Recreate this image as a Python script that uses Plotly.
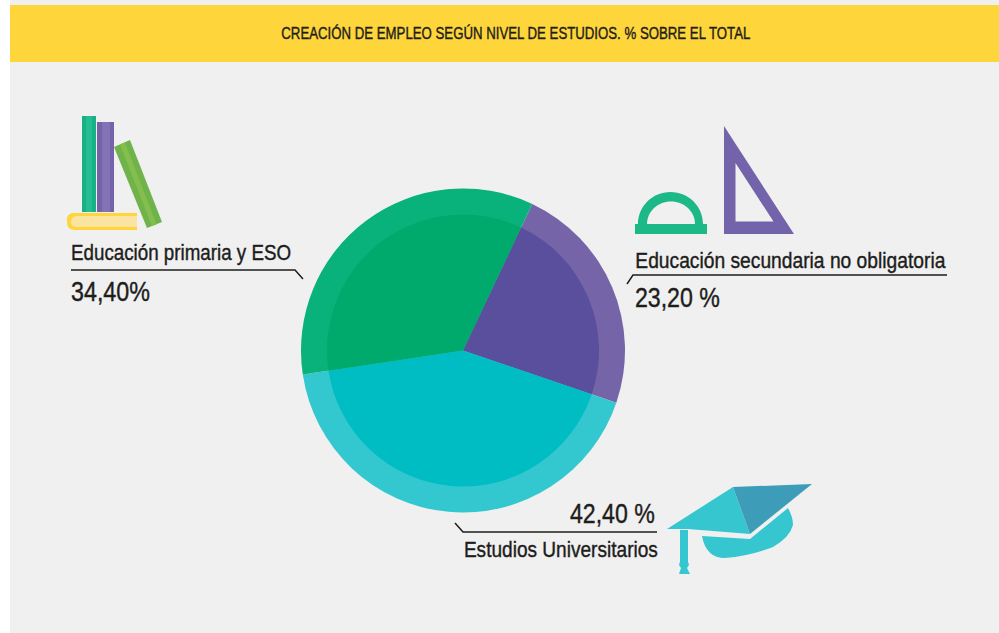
import json
import plotly.graph_objects as go

W, H = 999, 633

# Employment creation by education level
categories = ["Educación secundaria no obligatoria", "Estudios Universitarios", "Educación primaria y ESO"]
shares = [23.20, 42.40, 34.40]
rim_colors = ["#7565a8", "#33c8cf", "#08b27a"]
core_colors = ["#5a4f9c", "#00bcc3", "#00aa6c"]
title_text = "CREACIÓN DE EMPLEO SEGÚN NIVEL DE ESTUDIOS. % SOBRE EL TOTAL"
share_labels = ["23,20 %", "42,40 %", "34,40%"]

FONT = "Liberation Sans, Arial, sans-serif"
INK = "#1d1d1b"
BG = "#f0f0f0"
CX, CY = 463, 350.5
R_OUT, R_IN = 162, 136


def px(x):
    return x / W


def py(y):
    return 1 - y / H


def pt(p):
    return f"{px(p[0]):.5f},{py(p[1]):.5f}"


def poly(points, close=True):
    return "M" + " L".join(pt(p) for p in points) + (" Z" if close else "")


def path(start, *segs):
    # Each segment is a point (line), a 2-tuple of points (quadratic) or a 3-tuple (cubic)
    d = "M" + pt(start)
    for s in segs:
        if isinstance(s[0], tuple):
            d += (" Q" if len(s) == 2 else " C") + " ".join(pt(p) for p in s)
        else:
            d += " L" + pt(s)
    return d + " Z"


def dome(cx, base, rx, ry):
    # Half ellipse as two cubics
    k = 0.5523
    return (((cx - rx, base - k * ry), (cx - k * rx, base - ry), (cx, base - ry)),
            ((cx + k * rx, base - ry), (cx + rx, base - k * ry), (cx + rx, base)))


def filled(d, color):
    return dict(type="path", xref="paper", yref="paper", path=d,
                fillcolor=color, line=dict(width=0), layer="above")


def leader(points):
    return dict(type="path", xref="paper", yref="paper", path=poly(points, close=False),
                fillcolor="rgba(0,0,0,0)", line=dict(color=INK, width=1.5), layer="above")


def box(x0, y0, x1, y1, color):
    return dict(type="rect", xref="paper", yref="paper", x0=px(x0), x1=px(x1), y0=py(y1), y1=py(y0),
                fillcolor=color, line=dict(width=0), layer="above")


def pie(r, colors):
    return go.Pie(labels=categories, values=shares, sort=False, direction="clockwise", rotation=25.3,
                  domain=dict(x=[px(CX - r), px(CX + r)], y=[py(CY + r), py(CY - r)]),
                  marker=dict(colors=colors, line=dict(width=0)),
                  textinfo="none", showlegend=False)


fig = go.Figure([pie(R_OUT, rim_colors), pie(R_IN, core_colors)])

shapes = [
    dict(type="rect", xref="paper", yref="paper", x0=px(10), x1=1, y0=0, y1=1,
         fillcolor=BG, line=dict(width=0), layer="below"),
    dict(type="rect", xref="paper", yref="paper", x0=px(10), x1=1, y0=py(62), y1=py(5),
         fillcolor="#fed53a", line=dict(width=0), layer="below"),
    # leader lines
    leader([(71, 270), (295, 270), (303, 279)]),
    leader([(627, 284), (633, 275), (947, 275)]),
    leader([(455, 523), (463, 532), (657, 532)]),
    # books
    box(82, 116, 96, 212, "#16b184"),
    box(86, 116, 92, 212, "#26bc92"),
    box(97, 122, 114, 212, "#7463ab"),
    box(102, 122, 110, 212, "#8373b5"),
    filled(path((137, 213), (74, 213), ((66, 213), (67, 222)), ((67, 230), (75, 230)), (137, 230)), "#fed53a"),
    filled(path((137, 216), (76, 216), ((71, 217), (71, 222)), ((71, 227), (76, 227)), (137, 227)), "#fbe3a2"),
    filled(poly([(114, 147), (130, 140), (162, 222), (147, 228)]), "#6fb34a"),
    filled(poly([(120, 144.5), (125, 142.5), (156.5, 224.5), (152, 226)]), "#84bf4e"),
    # protractor
    filled(path((635, 234), (635, 224), (638, 224), *dome(670.5, 224, 32.5, 32), (707, 224), (707, 234)), "#1cb888"),
    filled(path((647, 224), *dome(671, 224, 24, 22.5)), BG),
    # set square
    filled(poly([(724, 126), (724, 234), (794, 234)]), "#7363ab"),
    filled(poly([(735.5, 163), (735.5, 221.5), (773.5, 221.5)]), BG),
    # graduation cap
    filled(path((702, 536), (750, 539), (788, 508),
                ((793, 517), (793, 525)), ((790, 537), (773, 547)), ((750, 556), (725, 558)),
                ((706, 558), (702, 536))), "#35c6d0"),
    filled(poly([(667, 529), (733, 487), (750, 534), (688, 529)]), "#35c6d0"),
    filled(poly([(733, 487), (812, 484), (750, 534)]), "#3d9db8"),
    box(680, 530, 688, 563, "#35c6d0"),
    filled(poly([(681, 558), (687, 558), (689, 565), (687, 568), (690, 574), (679, 574), (681, 568), (679, 565)]), "#35c6d0"),
]

# Text runs: left edge, right edge, vertical centre, string, font size
text_runs = [
    (281, 750, 33, title_text, 16.5),
    (71, 291, 253, categories[2], 22),
    (71, 150, 291, share_labels[2], 28),
    (635, 945, 260, categories[0], 22),
    (635, 720, 297, share_labels[0], 28),
    (570, 655, 513, share_labels[1], 28),
    (464, 658, 549, categories[1], 22),
]

annotations = [
    dict(x=px((x0 + x1) / 2), y=py(y), xref="paper", yref="paper", text=s, showarrow=False,
         xanchor="center", yanchor="middle", font=dict(family=FONT, size=size, color=INK))
    for x0, x1, y, s, size in text_runs
]

fig.update_layout(width=W, height=H, margin=dict(l=0, r=0, t=0, b=0), autosize=False,
                  paper_bgcolor="#ffffff", plot_bgcolor="rgba(0,0,0,0)",
                  shapes=shapes, annotations=annotations, showlegend=False)

# The labels are set in a condensed cut: fit each run to its measure
run_widths = {s: x1 - x0 for x0, x1, _, s, _ in text_runs}
condense = """
var widths = %s;
document.querySelectorAll('text.annotation-text').forEach(function (t) {
  var w = widths[t.textContent];
  if (!w) return;
  t.setAttribute('textLength', w);
  t.setAttribute('lengthAdjust', 'spacingAndGlyphs');
  t.style.stroke = '%s';
  t.style.strokeWidth = '0.4px';
});
""" % (json.dumps(run_widths, ensure_ascii=False), INK)

fig.write_html("out.html", config=dict(displayModeBar=False), post_script=condense)
